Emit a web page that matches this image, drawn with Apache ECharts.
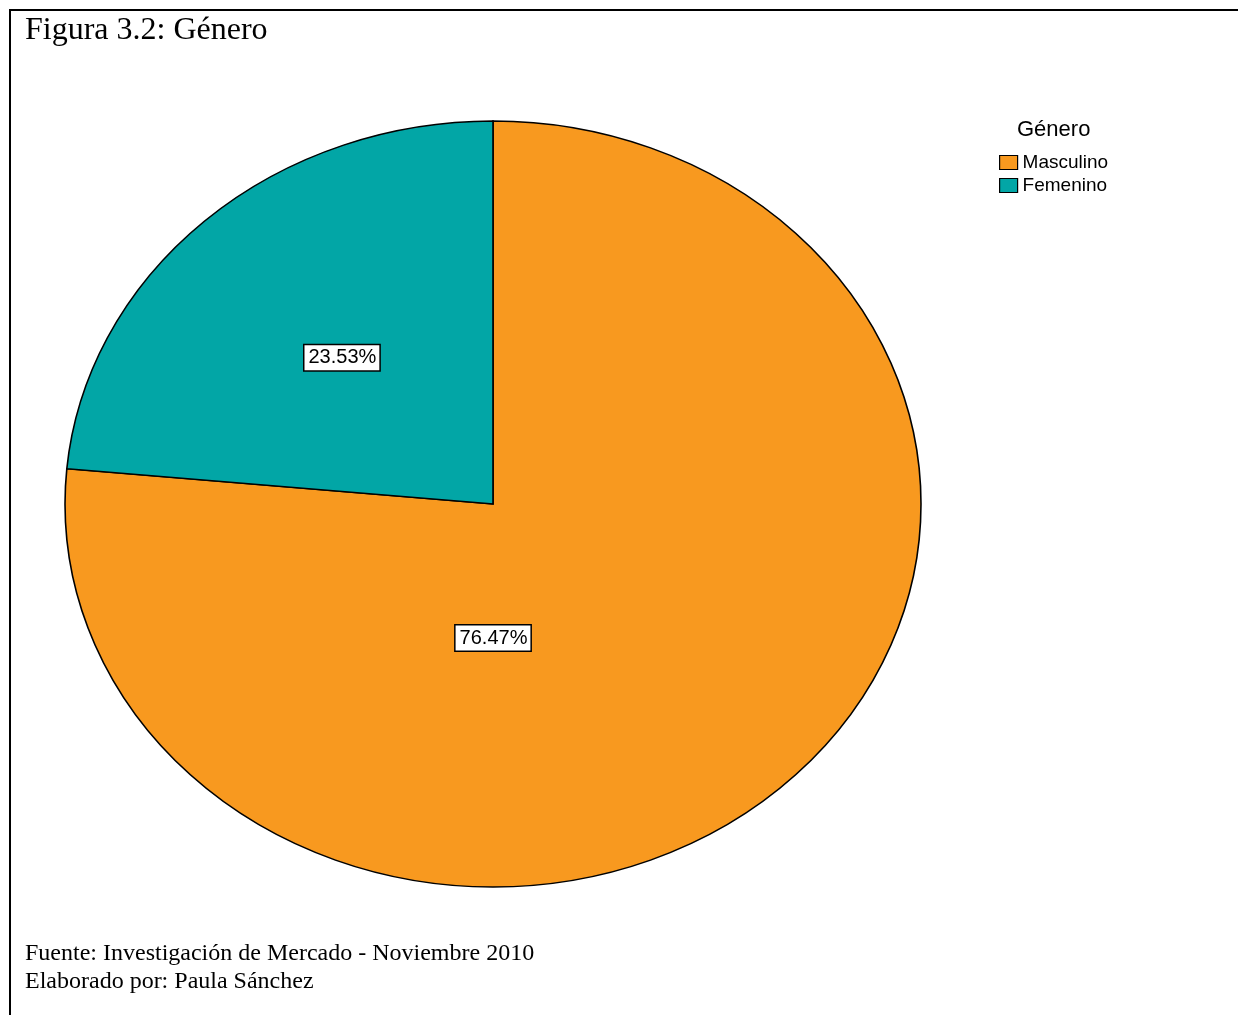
<!DOCTYPE html>
<html>
<head>
<meta charset="utf-8">
<title>Figura 3.2: Género</title>
<script src="https://cdn.jsdelivr.net/npm/echarts@6/dist/echarts.min.js"></script>
<style>
  html, body { margin: 0; padding: 0; background: #fff; }
  #chart { width: 1238px; height: 1015px; }
</style>
</head>
<body>
<div id="chart"></div>
<script>
// Gender breakdown (percent of respondents)
const categories = ['Masculino', 'Femenino'];
const shares = [76.47, 23.53];
const colors = ['#F8991F', '#02A6A6'];

// Elliptical pie layout
const pieCenter = [493, 504];
const radiusX = 428;
const radiusY = 383;
// label anchors, in units of the ellipse radii, relative to the centre
const labelAnchors = [[0, 0.35], [-0.353, -0.382]];

const total = shares.reduce((a, b) => a + b, 0);

function sliceRenderer(idx) {
  return function (params, api) {
    const value = api.value(0);
    let before = 0;
    for (let i = 0; i < idx; i++) before += shares[i];
    const start = -Math.PI / 2 + 2 * Math.PI * before / total;
    const end = start + 2 * Math.PI * value / total;
    const [cx, cy] = pieCenter;
    const anchor = labelAnchors[idx];
    return {
      type: 'group',
      children: [
        {
          type: 'sector',
          shape: { cx: cx, cy: cy, r0: 0, r: radiusX, startAngle: start, endAngle: end, clockwise: true },
          originX: cx,
          originY: cy,
          scaleY: radiusY / radiusX,
          style: { fill: colors[idx], stroke: '#000', lineWidth: 1.6, strokeNoScale: true }
        },
        {
          type: 'text',
          x: cx + anchor[0] * radiusX,
          y: cy + anchor[1] * radiusY,
          z2: 10,
          style: {
            text: value.toFixed(2) + '%',
            fill: '#000',
            font: '20px "Liberation Sans", Arial, sans-serif',
            align: 'center',
            verticalAlign: 'middle',
            backgroundColor: '#fff',
            borderColor: '#000',
            borderWidth: 1.5,
            padding: [3, 3, 2, 4]
          }
        }
      ]
    };
  };
}

const chart = echarts.init(document.getElementById('chart'), null, { renderer: 'canvas' });

chart.setOption({
  backgroundColor: '#fff',
  animation: false,
  title: [
    {
      text: 'Figura 3.2: Género',
      left: 25,
      top: 15,
      padding: 0,
      textStyle: { fontFamily: '"Liberation Serif", "Times New Roman", serif', fontSize: 32, fontWeight: 'normal', color: '#000' }
    },
    {
      text: 'Género',
      left: 1017,
      top: 119,
      padding: 0,
      textStyle: { fontFamily: '"Liberation Sans", Arial, sans-serif', fontSize: 22, fontWeight: 'normal', color: '#000' }
    }
  ],
  legend: {
    data: categories,
    orient: 'vertical',
    left: 999,
    top: 153,
    padding: 0,
    itemWidth: 18,
    itemHeight: 14,
    itemGap: 4,
    icon: 'rect',
    selectedMode: false,
    itemStyle: { borderColor: '#000', borderWidth: 1.2 },
    textStyle: { fontFamily: '"Liberation Sans", Arial, sans-serif', fontSize: 19, color: '#000', lineHeight: 19, padding: [0, 0, 0, 0] }
  },
  series: categories.map((name, i) => ({
    type: 'custom',
    name: name,
    coordinateSystem: 'none',
    itemStyle: { color: colors[i] },
    renderItem: sliceRenderer(i),
    data: [[shares[i]]]
  })),
  graphic: [
    { type: 'line', shape: { x1: 9, y1: 10, x2: 1238, y2: 10 }, style: { stroke: '#000', lineWidth: 2 } },
    { type: 'line', shape: { x1: 10, y1: 9, x2: 10, y2: 1015 }, style: { stroke: '#000', lineWidth: 2 } },
    {
      type: 'text', left: 25, top: 942,
      style: { text: 'Fuente: Investigación de Mercado - Noviembre 2010', fill: '#000', font: '24px "Liberation Serif", "Times New Roman", serif' }
    },
    {
      type: 'text', left: 25, top: 970,
      style: { text: 'Elaborado por: Paula Sánchez', fill: '#000', font: '24px "Liberation Serif", "Times New Roman", serif' }
    }
  ]
});
</script>
</body>
</html>
